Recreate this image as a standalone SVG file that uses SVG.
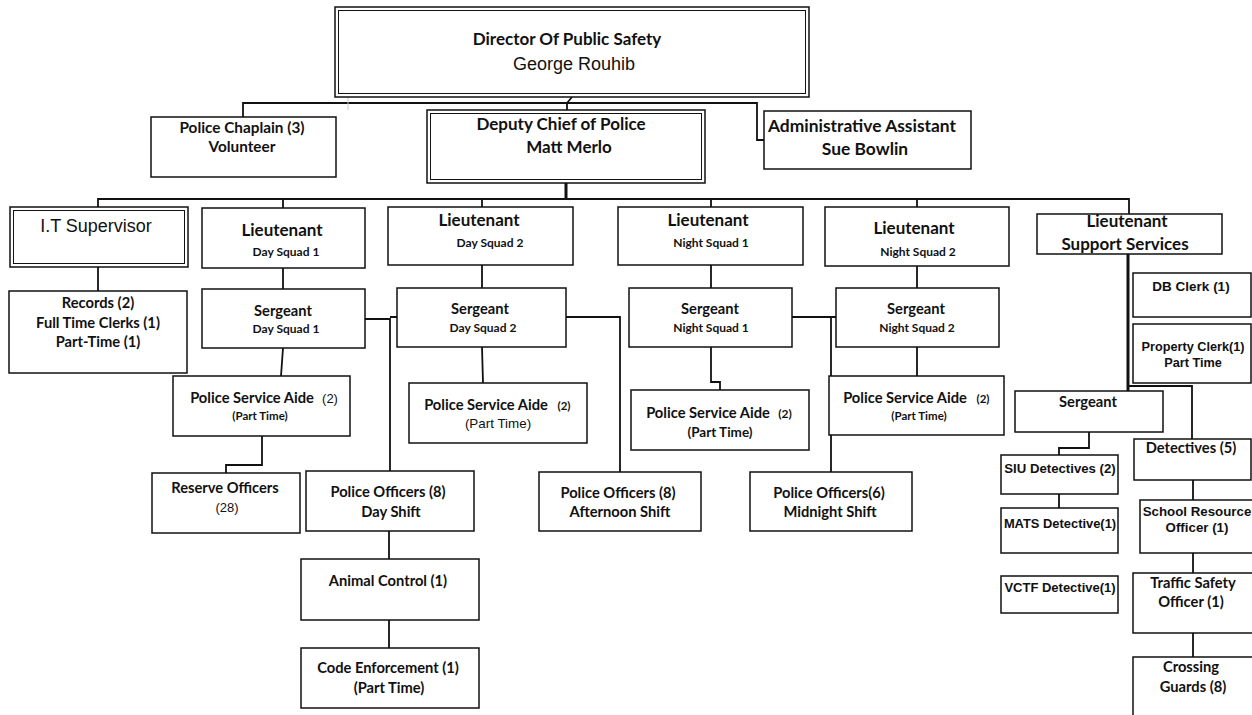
<svg xmlns="http://www.w3.org/2000/svg" width="1252" height="715" viewBox="0 0 1252 715">
<style>
.bx{fill:#fff;stroke:#111;stroke-width:1.5}
.bi{fill:none;stroke:#111;stroke-width:1}
.cn{fill:none;stroke:#111;stroke-width:1.8}
.ck{fill:none;stroke:#111;stroke-width:3}
.cb{font-family:Lato,"Liberation Sans",sans-serif;font-weight:bold;fill:#111;text-anchor:middle}
.ar{font-family:"Liberation Sans",Arial,sans-serif;fill:#111;text-anchor:middle}
.ab{font-family:"Liberation Sans",Arial,sans-serif;font-weight:bold;fill:#111;text-anchor:middle}
.h{font-size:17px}
.m{font-size:14.7px}
.s{font-size:12px}
</style>
<rect width="1252" height="715" fill="#fff"/>
<g id="connectors">
<path class="cn" d="M243,117 V103 H757 V140 H764"/>
<path class="cn" d="M567,110 V103 M567,103 L572,97"/>
<path d="M348,97 V110" stroke="#ccc" stroke-width="1" fill="none"/>
<path class="ck" d="M566,183 V199"/>
<path class="cn" d="M98,207 V199 H1129 V214 M283,199 V208 M482,199 V207 M711,199 V207 M917,199 V207"/>
<path class="cn" d="M98,267 V291"/>
<path class="cn" d="M283,268 V289 M283,348 L281,376 M262,436 V465 H226 V473"/>
<path class="cn" d="M365,319 H390 V471 M390,317 H397"/>
<path class="cn" d="M389,531 V559 M389,620 V648"/>
<path class="cn" d="M482,265 V288 M482,347 L483,383 M566,317 H620 V472"/>
<path class="cn" d="M711,265 V288 M711,347 V382 H720 V390"/>
<path class="cn" d="M792,317 H831 V472 M831,317 H836"/>
<path class="cn" d="M917,266 V288 M917,347 V376"/>
<path d="M1128,254 V391" stroke="#111" stroke-width="3" fill="none"/>
<path class="cn" d="M1128,386 H1192 V439"/>
<path class="cn" d="M1089,432 V448 H1059 V455 M1059,494 V508"/>
<path class="cn" d="M1193,480 V500 M1193,553 V573 M1193,633 V657"/>
</g>
<g id="director">
<rect class="bx" x="335" y="7" width="474" height="90"/>
<rect class="bi" x="338.5" y="10.5" width="467" height="83"/>
<text class="cb h" x="567" y="45">Director Of Public Safety</text>
<text class="ar" x="574" y="70" font-size="18">George Rouhib</text>
</g>
<g id="chaplain">
<rect class="bx" x="151" y="117" width="185" height="60"/>
<text class="cb" x="242" y="133" font-size="15.3">Police Chaplain (3)</text>
<text class="cb" x="242" y="152" font-size="15.3">Volunteer</text>
</g>
<g id="deputy">
<rect class="bx" x="427" y="110" width="278" height="73"/>
<rect class="bi" x="430.5" y="113.5" width="271" height="66"/>
<text class="cb h" x="561" y="130">Deputy Chief of Police</text>
<text class="cb h" x="569" y="153">Matt Merlo</text>
</g>
<g id="admin">
<rect class="bx" x="764" y="111" width="207" height="58"/>
<text class="cb" x="862" y="132" font-size="17.4">Administrative Assistant</text>
<text class="cb" x="865" y="155" font-size="17.4">Sue Bowlin</text>
</g>
<g id="it">
<rect class="bx" x="10" y="207" width="178" height="60"/>
<rect class="bi" x="13.5" y="210.5" width="171" height="53"/>
<text class="ar" x="96" y="232" font-size="18">I.T Supervisor</text>
</g>
<g id="lt-day1">
<rect class="bx" x="202" y="208" width="163" height="60"/>
<text class="cb h" x="282" y="236">Lieutenant</text>
<text class="cb s" x="286" y="256">Day Squad 1</text>
</g>
<g id="lt-day2">
<rect class="bx" x="388" y="207" width="185" height="58"/>
<text class="cb h" x="479" y="226">Lieutenant</text>
<text class="cb s" x="490" y="247">Day Squad 2</text>
</g>
<g id="lt-night1">
<rect class="bx" x="618" y="207" width="185" height="58"/>
<text class="cb h" x="708" y="226">Lieutenant</text>
<text class="cb s" x="711" y="247">Night Squad 1</text>
</g>
<g id="lt-night2">
<rect class="bx" x="825" y="207" width="184" height="59"/>
<text class="cb h" x="914" y="234">Lieutenant</text>
<text class="cb s" x="918" y="256">Night Squad 2</text>
</g>
<g id="lt-support">
<rect class="bx" x="1037" y="214" width="185" height="40"/>
<text class="cb h" x="1127" y="227">Lieutenant</text>
<text class="cb h" x="1125" y="250">Support Services</text>
</g>
<g id="records">
<rect class="bx" x="9" y="291" width="178" height="82"/>
<text class="cb m" x="98" y="308">Records (2)</text>
<text class="cb m" x="98" y="328">Full Time Clerks (1)</text>
<text class="cb m" x="98" y="347">Part-Time (1)</text>
</g>
<g id="sgt-day1">
<rect class="bx" x="202" y="289" width="163" height="59"/>
<text class="cb m" x="283" y="316">Sergeant</text>
<text class="cb s" x="286" y="333">Day Squad 1</text>
</g>
<g id="sgt-day2">
<rect class="bx" x="397" y="288" width="169" height="59"/>
<text class="cb m" x="480" y="314">Sergeant</text>
<text class="cb s" x="483" y="332">Day Squad 2</text>
</g>
<g id="sgt-night1">
<rect class="bx" x="629" y="288" width="163" height="59"/>
<text class="cb m" x="710" y="314">Sergeant</text>
<text class="cb s" x="711" y="332">Night Squad 1</text>
</g>
<g id="sgt-night2">
<rect class="bx" x="836" y="288" width="163" height="59"/>
<text class="cb m" x="916" y="314">Sergeant</text>
<text class="cb s" x="917" y="332">Night Squad 2</text>
</g>
<g id="psa-day1">
<rect class="bx" x="173" y="376" width="177" height="60"/>
<text class="cb m" x="252" y="403">Police Service Aide</text>
<text class="ar" x="330" y="403" font-size="13">(2)</text>
<text class="cb" x="260" y="420" font-size="11.5">(Part Time)</text>
</g>
<g id="psa-day2">
<rect class="bx" x="409" y="383" width="178" height="60"/>
<text class="cb m" x="486" y="410">Police Service Aide</text>
<text class="cb" x="564" y="410" font-size="11.5">(2)</text>
<text class="ar" x="498" y="428" font-size="13.4">(Part Time)</text>
</g>
<g id="psa-night1">
<rect class="bx" x="631" y="390" width="178" height="60"/>
<text class="cb m" x="708" y="418">Police Service Aide</text>
<text class="cb" x="785" y="418" font-size="12">(2)</text>
<text class="cb" x="720" y="437" font-size="13.5">(Part Time)</text>
</g>
<g id="psa-night2">
<rect class="bx" x="829" y="376" width="175" height="59"/>
<text class="cb m" x="905" y="403">Police Service Aide</text>
<text class="cb" x="983" y="403" font-size="11.5">(2)</text>
<text class="cb" x="919" y="420" font-size="11.5">(Part Time)</text>
</g>
<g id="reserve">
<rect class="bx" x="152" y="473" width="148" height="60"/>
<text class="cb m" x="225" y="493">Reserve Officers</text>
<text class="ar" x="227" y="512" font-size="13">(28)</text>
</g>
<g id="po-day">
<rect class="bx" x="306" y="471" width="168" height="60"/>
<text class="cb m" x="388" y="497">Police Officers (8)</text>
<text class="cb m" x="391" y="517">Day Shift</text>
</g>
<g id="animal">
<rect class="bx" x="301" y="559" width="178" height="61"/>
<text class="cb m" x="388" y="586">Animal Control (1)</text>
</g>
<g id="code">
<rect class="bx" x="301" y="648" width="178" height="60"/>
<text class="cb m" x="388" y="673">Code Enforcement (1)</text>
<text class="cb m" x="389" y="693">(Part Time)</text>
</g>
<g id="po-afternoon">
<rect class="bx" x="539" y="472" width="162" height="59"/>
<text class="cb m" x="618" y="498">Police Officers (8)</text>
<text class="cb m" x="620" y="517">Afternoon Shift</text>
</g>
<g id="po-midnight">
<rect class="bx" x="750" y="472" width="162" height="59"/>
<text class="cb m" x="829" y="498">Police Officers(6)</text>
<text class="cb m" x="830" y="517">Midnight Shift</text>
</g>
<g id="db-clerk">
<rect class="bx" x="1133" y="273" width="118" height="44"/>
<text class="ab" x="1191" y="291" font-size="13.5">DB Clerk (1)</text>
</g>
<g id="property-clerk">
<rect class="bx" x="1133" y="324" width="118" height="59"/>
<text class="ab" x="1193" y="351" font-size="12.7">Property Clerk(1)</text>
<text class="ab" x="1193" y="367" font-size="12.7">Part Time</text>
</g>
<g id="sgt-support">
<rect class="bx" x="1015" y="391" width="148" height="41"/>
<text class="cb m" x="1088" y="407">Sergeant</text>
</g>
<g id="siu">
<rect class="bx" x="1001" y="455" width="117" height="39"/>
<text class="ab" x="1060" y="473" font-size="13.2">SIU Detectives (2)</text>
</g>
<g id="mats">
<rect class="bx" x="1001" y="508" width="117" height="45"/>
<text class="ab" x="1060" y="528" font-size="12.9">MATS Detective(1)</text>
</g>
<g id="vctf">
<rect class="bx" x="1001" y="576" width="117" height="37"/>
<text class="ab" x="1060" y="592" font-size="13">VCTF Detective(1)</text>
</g>
<g id="detectives">
<rect class="bx" x="1134" y="439" width="117" height="41"/>
<text class="cb m" x="1191" y="453">Detectives (5)</text>
</g>
<g id="school">
<rect class="bx" x="1140" y="500" width="114" height="53"/>
<text class="ab" x="1197" y="516" font-size="13.3">School Resource</text>
<text class="ab" x="1197" y="532" font-size="13.3">Officer (1)</text>
</g>
<g id="traffic">
<rect class="bx" x="1133" y="573" width="121" height="60"/>
<text class="cb m" x="1193" y="588">Traffic Safety</text>
<text class="cb m" x="1191" y="607">Officer (1)</text>
</g>
<g id="crossing">
<rect class="bx" x="1133" y="657" width="121" height="62"/>
<text class="cb m" x="1191" y="672">Crossing</text>
<text class="cb m" x="1193" y="692">Guards (8)</text>
</g>
</svg>
